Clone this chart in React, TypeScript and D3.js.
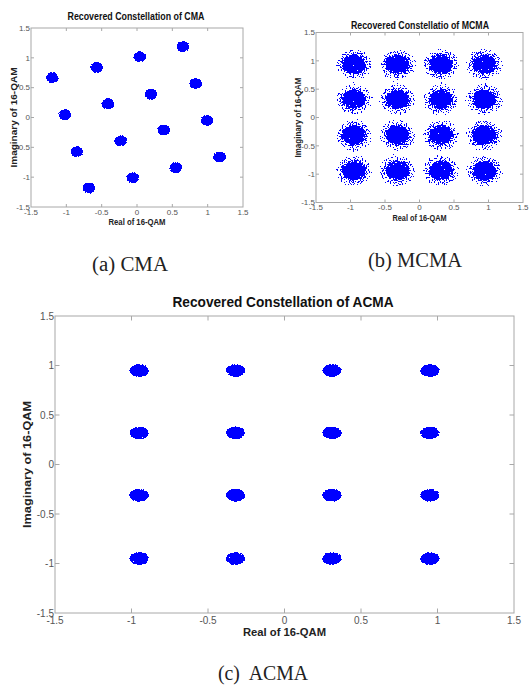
import React, { useRef, useEffect } from "react";
import * as d3 from "d3";

// tick values shared by every panel
const axisTicks = [-1.5, -1, -0.5, 0, 0.5, 1, 1.5];

// (a) CMA: rotated constellation, cluster centres
const cmaReal = [0.65, 0.04, -0.57, -1.2, 0.83, 0.2, -0.41, -1.02, 0.99, 0.38, -0.23, -0.85, 1.17, 0.55, -0.06, -0.68];
const cmaImag = [1.19, 1.02, 0.84, 0.67, 0.57, 0.39, 0.23, 0.05, -0.05, -0.21, -0.39, -0.57, -0.66, -0.84, -1.01, -1.18];
const cmaSpread = 0.092;

// (b) MCMA: square grid, wide noise clouds
const mcmaReal = [-0.95, -0.32, 0.31, 0.94];
const mcmaImag = [0.94, 0.32, -0.31, -0.94];
const mcmaSpread = 0.235;

// (c) ACMA: square grid, tight clusters
const acmaReal = [-0.95, -0.32, 0.31, 0.95];
const acmaImag = [0.95, 0.32, -0.31, -0.95];
const acmaSpread = 0.064;

const grid = (re, im) => im.flatMap((y) => re.map((x) => ({ x, y })));

const panels = [
  {
    id: "cma",
    title: "Recovered Constellation of CMA",
    xLabel: "Real of  16-QAM",
    yLabel: "Imaginary of 16-QAM",
    caption: "(a) CMA",
    points: cmaReal.map((x, i) => ({ x, y: cmaImag[i] })),
    spread: cmaSpread,
    box: { left: 31, right: 243, top: 28, bottom: 207 },
    titleY: 19.5, titleX: 136, titleSize: 10.5, titleLen: 137,
    xLabelY: 225, xLabelLen: 57, yLabelX: 17, yLabelLen: 100, labelSize: 9.5,
    tickSize: 8, tickLen: 3, xTickY: 215,
    capX: 92, capY: 271, capLen: 76,
    core: 1, blur: 1.3, noise: 1.5, halo: 0,
  },
  {
    id: "mcma",
    title: "Recovered Constellatio of MCMA",
    xLabel: "Real of 16-QAM",
    yLabel: "Imaginary of 16-QAM",
    caption: "(b) MCMA",
    points: grid(mcmaReal, mcmaImag),
    spread: mcmaSpread,
    box: { left: 316, right: 523, top: 32.5, bottom: 202.5 },
    titleY: 29, titleX: 420, titleSize: 10.5, titleLen: 138,
    xLabelY: 220.5, xLabelLen: 54, yLabelX: 301, yLabelLen: 80, labelSize: 9,
    tickSize: 8, tickLen: 3, xTickY: 210,
    capX: 368, capY: 267, capLen: 94,
    core: 0.74, blur: 2, noise: 2, halo: 3.6,
  },
  {
    id: "acma",
    title: "Recovered Constellation of ACMA",
    xLabel: "Real of 16-QAM",
    yLabel: "Imaginary of 16-QAM",
    caption: "(c)  ACMA",
    points: grid(acmaReal, acmaImag),
    spread: acmaSpread,
    box: { left: 55, right: 514, top: 316, bottom: 613 },
    titleY: 307, titleX: 283, titleSize: 14, titleLen: 221,
    xLabelY: 636, xLabelLen: 83, yLabelX: 31, yLabelLen: 127, labelSize: 11.5,
    tickSize: 10, tickLen: 4.5, xTickY: 624,
    capX: 218, capY: 680, capLen: 90,
    core: 1, blur: 1.3, noise: 1.5, halo: 0,
  },
];

const sans = "Liberation Sans, Arial, sans-serif";

const App = () => {
  const svgRef = useRef(null);

  useEffect(() => {
    const svg = d3.select(svgRef.current);
    svg.selectAll("*").remove();
    const defs = svg.append("defs");

    const noiseSteps = (f, seed) => {
      f.append("feTurbulence").attr("type", "fractalNoise").attr("baseFrequency", 0.75)
        .attr("numOctaves", 1).attr("seed", seed).attr("result", "noise");
      f.append("feColorMatrix").attr("in", "noise").attr("type", "matrix")
        .attr("values", "0 0 0 0 0  0 0 0 0 0  0 0 0 0 0  1 0 0 0 0").attr("result", "na");
    };
    const finish = (f) => {
      const ct = f.append("feComponentTransfer").attr("in", "mix").attr("result", "mask");
      ct.append("feFuncA").attr("type", "discrete").attr("tableValues", "0 1");
      f.append("feFlood").attr("flood-color", "#0000ff").attr("result", "blue");
      f.append("feComposite").attr("in", "blue").attr("in2", "mask").attr("operator", "in");
    };

    panels.forEach((p) => {
      const { left, right, top, bottom } = p.box;
      const x = d3.scaleLinear().domain([-1.5, 1.5]).range([left, right]);
      const y = d3.scaleLinear().domain([-1.5, 1.5]).range([bottom, top]);

      // ragged edge for the dense core: soft blob scaled by noise, thresholded
      const fc = defs.append("filter")
        .attr("id", `core-${p.id}`)
        .attr("x", "-10%").attr("y", "-10%")
        .attr("width", "120%").attr("height", "120%")
        .attr("color-interpolation-filters", "sRGB");
      fc.append("feGaussianBlur").attr("in", "SourceAlpha").attr("stdDeviation", p.blur).attr("result", "soft");
      noiseSteps(fc, 7);
      fc.append("feComposite").attr("in", "soft").attr("in2", "na").attr("operator", "arithmetic")
        .attr("k1", p.noise).attr("k2", 1 - p.noise / 2).attr("k3", 0).attr("k4", 0).attr("result", "mix");
      finish(fc);

      // sparse dots around the core
      const fh = defs.append("filter")
        .attr("id", `halo-${p.id}`)
        .attr("x", "-10%").attr("y", "-10%")
        .attr("width", "120%").attr("height", "120%")
        .attr("color-interpolation-filters", "sRGB");
      fh.append("feGaussianBlur").attr("in", "SourceAlpha").attr("stdDeviation", p.halo || 1).attr("result", "soft");
      noiseSteps(fh, 3);
      fh.append("feComposite").attr("in", "soft").attr("in2", "na").attr("operator", "arithmetic")
        .attr("k1", 9).attr("k2", -9 * 0.46).attr("k3", 0).attr("k4", 0).attr("result", "mix");
      finish(fh);

      const g = svg.append("g");
      const rx = x(p.spread) - x(0);
      const ry = y(0) - y(p.spread);

      if (p.halo) {
        g.append("g")
          .attr("filter", `url(#halo-${p.id})`)
          .selectAll("ellipse")
          .data(p.points)
          .join("ellipse")
          .attr("cx", (d) => x(d.x))
          .attr("cy", (d) => y(d.y))
          .attr("rx", rx)
          .attr("ry", ry)
          .attr("fill", "#0000ff");
      }

      // clusters
      g.append("g")
        .attr("filter", `url(#core-${p.id})`)
        .selectAll("ellipse")
        .data(p.points)
        .join("ellipse")
        .attr("cx", (d) => x(d.x))
        .attr("cy", (d) => y(d.y))
        .attr("rx", rx * p.core)
        .attr("ry", ry * p.core)
        .attr("fill", "#0000ff");

      // box
      g.append("rect")
        .attr("x", left).attr("y", top)
        .attr("width", right - left).attr("height", bottom - top)
        .attr("fill", "none").attr("stroke", "#a8a8a8").attr("stroke-width", 1);

      // inward ticks on all four sides
      const inner = axisTicks.slice(1, -1);
      const tk = g.append("g").attr("stroke", "#a8a8a8").attr("stroke-width", 1);
      inner.forEach((t) => {
        tk.append("line").attr("x1", x(t)).attr("x2", x(t)).attr("y1", bottom).attr("y2", bottom - p.tickLen);
        tk.append("line").attr("x1", x(t)).attr("x2", x(t)).attr("y1", top).attr("y2", top + p.tickLen);
        tk.append("line").attr("y1", y(t)).attr("y2", y(t)).attr("x1", left).attr("x2", left + p.tickLen);
        tk.append("line").attr("y1", y(t)).attr("y2", y(t)).attr("x1", right).attr("x2", right - p.tickLen);
      });

      // tick labels
      g.append("g")
        .selectAll("text")
        .data(axisTicks)
        .join("text")
        .attr("x", (d) => x(d))
        .attr("y", p.xTickY)
        .attr("text-anchor", "middle")
        .attr("font-family", sans)
        .attr("font-size", p.tickSize)
        .attr("fill", "#555")
        .text((d) => String(d));

      g.append("g")
        .selectAll("text")
        .data(axisTicks)
        .join("text")
        .attr("x", left - 1)
        .attr("y", (d) => y(d))
        .attr("dy", "0.35em")
        .attr("text-anchor", "end")
        .attr("font-family", sans)
        .attr("font-size", p.tickSize)
        .attr("fill", "#555")
        .text((d) => String(d));

      // title and axis labels
      g.append("text")
        .attr("x", p.titleX).attr("y", p.titleY)
        .attr("text-anchor", "middle")
        .attr("font-family", sans)
        .attr("font-weight", "bold")
        .attr("font-size", p.titleSize)
        .attr("fill", "#111")
        .attr("textLength", p.titleLen)
        .attr("lengthAdjust", "spacingAndGlyphs")
        .text(p.title);

      const midX = (left + right) / 2;
      g.append("text")
        .attr("x", midX).attr("y", p.xLabelY)
        .attr("text-anchor", "middle")
        .attr("font-family", sans)
        .attr("font-weight", "bold")
        .attr("font-size", p.labelSize)
        .attr("fill", "#222")
        .attr("textLength", p.xLabelLen)
        .attr("lengthAdjust", "spacingAndGlyphs")
        .text(p.xLabel);

      const midY = (top + bottom) / 2;
      g.append("text")
        .attr("transform", `translate(${p.yLabelX},${midY}) rotate(-90)`)
        .attr("text-anchor", "middle")
        .attr("font-family", sans)
        .attr("font-weight", "bold")
        .attr("font-size", p.labelSize)
        .attr("fill", "#222")
        .attr("textLength", p.yLabelLen)
        .attr("lengthAdjust", "spacingAndGlyphs")
        .text(p.yLabel);

      // caption under the panel
      g.append("text")
        .attr("x", p.capX).attr("y", p.capY)
        .attr("font-family", "Liberation Serif, Times New Roman, serif")
        .attr("font-size", 20)
        .attr("fill", "#222")
        .attr("textLength", p.capLen)
        .attr("lengthAdjust", "spacingAndGlyphs")
        .style("white-space", "pre")
        .text(p.caption);
    });
  }, []);

  return (
    <svg
      ref={svgRef}
      width={529}
      height={685}
      style={{ position: "absolute", left: 0, top: 0, background: "#fff" }}
    />
  );
};

export default App;
